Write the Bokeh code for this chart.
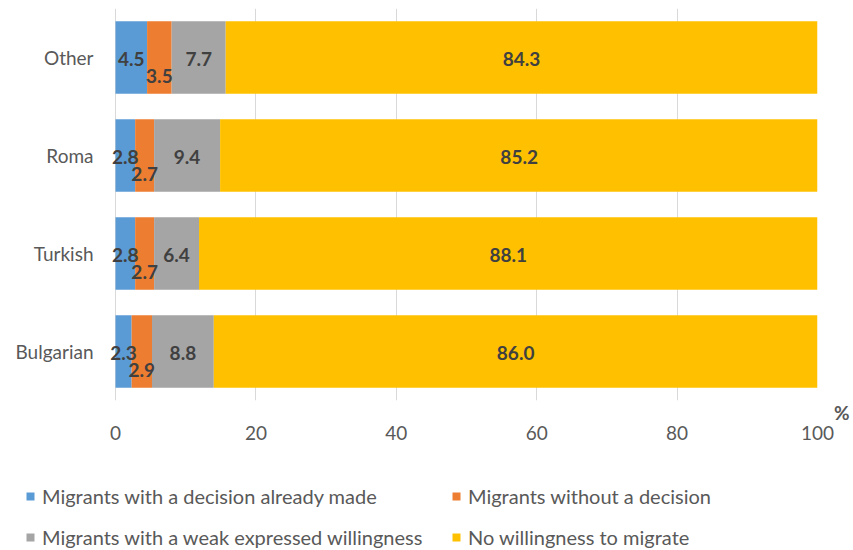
from bokeh.plotting import figure
from bokeh.layouts import column
from bokeh.models import ColumnDataSource, FactorRange, Range1d, Legend, LegendItem, Title, FixedTicker
from bokeh.core.properties import value
from bokeh.embed import file_html
from bokeh.resources import INLINE

categories = ["Bulgarian", "Turkish", "Roma", "Other"]
decision_made = [2.3, 2.8, 2.8, 4.5]
without_decision = [2.9, 2.7, 2.7, 3.5]
weak_willingness = [8.8, 6.4, 9.4, 7.7]
no_willingness = [86.0, 88.1, 85.2, 84.3]

series_keys = ["made", "without", "weak", "none"]
series_labels = [
    "Migrants with a decision already made",
    "Migrants without a decision",
    "Migrants with a weak expressed willingness",
    "No willingness to migrate",
]
colors = ["#5B9BD5", "#ED7D31", "#A5A5A5", "#FFC000"]
x_ticks = [0, 20, 40, 60, 80, 100]
unit_label = "%"

FONT = "Lato"
TXT = "#595959"

# geometry: frame spans canvas x 0..817, value 0 sits at x=115
LEFT_GAP_PX, SCALE_PX = 115, 702
x_start = -100 * LEFT_GAP_PX / SCALE_PX

src = ColumnDataSource(dict(cat=categories, made=decision_made, without=without_decision,
                            weak=weak_willingness, none=no_willingness))

p = figure(width=853, height=450, y_range=FactorRange(factors=categories, range_padding=0),
           x_range=Range1d(x_start, 100), output_backend="svg", toolbar_location=None,
           y_axis_location=None,
           min_border_left=0, min_border_right=36, min_border_top=8, min_border_bottom=50)

renderers = p.hbar_stack(series_keys, y="cat", height=0.74, color=colors, line_color=None, source=src)

# category labels at the left of the value axis origin
p.text(x=[0] * len(categories), y=categories, text=categories, x_offset=-22,
       text_align="right", text_baseline="middle", text_font=value(FONT),
       text_font_size="19px", text_color=TXT)

# data labels
lx, ly, lt, loff = [], [], [], []
series = [decision_made, without_decision, weak_willingness, no_willingness]
for i, c in enumerate(categories):
    left = 0.0
    for s_idx, s in enumerate(series):
        v = s[i]
        lx.append(left + v / 2)
        ly.append(c)
        lt.append(f"{v:.1f}")
        loff.append(18 if s_idx == 1 else 1)
        left += v
lsrc = ColumnDataSource(dict(x=lx, y=ly, t=lt, off=loff))
p.text(x="x", y="y", text="t", y_offset="off", source=lsrc, text_align="center",
       text_baseline="middle", text_font=value(FONT), text_font_style="bold",
       text_font_size="19px", text_color="#404040")

p.outline_line_color = None
for g in p.ygrid:
    g.visible = False
p.xgrid.ticker = FixedTicker(ticks=x_ticks)
p.xgrid.grid_line_color = "#D9D9D9"
p.xgrid.level = "underlay"
p.xaxis.ticker = FixedTicker(ticks=x_ticks)
p.xaxis.axis_line_color = None
p.xaxis.major_tick_line_color = None
p.xaxis.minor_tick_line_color = None
p.xaxis.major_tick_out = 0
p.xaxis.major_tick_in = 0
p.xaxis.minor_tick_out = 0
p.xaxis.major_label_standoff = 0
p.xaxis.major_label_text_font = FONT
p.xaxis.major_label_text_font_size = "19px"
p.xaxis.major_label_text_color = TXT

# unit label "%" just under the right end of the axis
unit = Title(text=unit_label, align="right", offset=-32, standoff=0, vertical_align="top",
             text_font=FONT, text_font_style="bold", text_font_size="19px", text_color=TXT)
p.below = [unit] + list(p.below)

# legend strip below the chart
lf = figure(width=853, height=100, x_range=Range1d(0, 1), y_range=Range1d(0, 1),
            output_backend="svg", toolbar_location=None, x_axis_location=None,
            y_axis_location=None, min_border_left=0, min_border_right=36,
            min_border_top=0, min_border_bottom=0)
lf.outline_line_color = None
for g in list(lf.xgrid) + list(lf.ygrid):
    g.visible = False
# legend proxies: one point each, placed outside the visible ranges
proxy = ColumnDataSource(dict(x=[-5], y=[-5]))
dummies = [lf.rect(x="x", y="y", width=0.1, height=0.1, fill_color=c, line_color=None, source=proxy)
           for c in colors]

def make_legend(idxs, x):
    lg = Legend(items=[LegendItem(label=series_labels[k], renderers=[dummies[k]]) for k in idxs],
                location=(x, 1), orientation="vertical", glyph_width=10, glyph_height=10,
                label_standoff=7, label_height=20, spacing=17, padding=0, margin=0,
                border_line_color=None, background_fill_alpha=0,
                label_text_font=FONT, label_text_font_size="20px", label_text_color=TXT)
    lf.add_layout(lg, "center")

make_legend([0, 2], 25)
make_legend([1, 3], 451)

layout = column(p, lf, spacing=0)
open("out.html", "w").write(file_html(layout, INLINE))
